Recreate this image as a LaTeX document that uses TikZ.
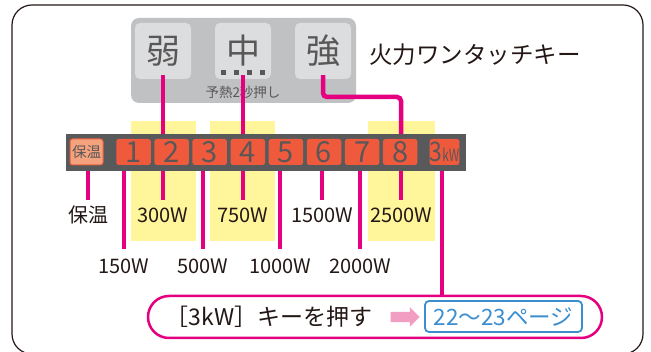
\documentclass[tikz,border=0pt]{standalone}
\usepackage{fontspec}
\setmainfont{Noto Sans CJK JP}
\usetikzlibrary{shapes.arrows}

\definecolor{hotpink}{HTML}{E4007F}
\definecolor{hilite}{HTML}{FFF59B}
\definecolor{bargray}{HTML}{58595B}
\definecolor{keyred}{HTML}{F05A3C}
\definecolor{keytext}{HTML}{595757}
\definecolor{warmkey}{HTML}{F5A27E}
\definecolor{warmedge}{HTML}{E9603A}
\definecolor{panelgray}{HTML}{C0C1C3}
\definecolor{btngray}{HTML}{DCDDDE}
\definecolor{ink}{HTML}{231815}
\definecolor{pagebl}{HTML}{3B8ED0}
\definecolor{arrowpk}{HTML}{F29EC2}

\newcommand{\fs}[1]{\fontsize{#1}{#1}\selectfont}

\tikzstyle{hot} = [line width=4.5pt, draw=hotpink]
\tikzstyle{btn} = [fill=btngray, rounded corners=5pt, minimum size=56pt, inner sep=0pt, text=keytext, font=\fs{34}]
\tikzstyle{numkey} = [fill=keyred, rounded corners=2.5pt, minimum width=34.5pt, minimum height=26pt, inner sep=0pt, text=keytext, font=\fs{29}]
\tikzstyle{watt} = [anchor=north, inner xsep=0pt, inner ysep=8pt, text height=14pt, text depth=0pt, text=ink, font=\fs{20}]
\tikzstyle{wattlow} = [watt, inner ysep=10pt]

\begin{document}
\begin{tikzpicture}[x=1pt, y=-1pt, node distance=38.1pt]
\useasboundingbox (0,0) rectangle (651,352);
\draw [line width=1.2pt, rounded corners=20pt, draw=ink] (12,5) rectangle (643,354);

% yellow columns
\fill [hilite] (131,121) rectangle (196,241);
\fill [hilite] (210,121) rectangle (275,241);
\fill [hilite] (368,121) rectangle (435,241);

% one-touch keys
\node (panel) [fill=panelgray, rounded corners=8pt, minimum width=225pt, minimum height=85pt] at (243.5,60.5) {};
\node (jyaku) [btn] at (163,51) {弱};
\node (chu) [btn, node distance=80pt, right of=jyaku] {中};
\node (kyou) [btn, node distance=80pt, right of=chu] {強};
\foreach \dx in {0,13,26,39}
  \fill [keytext] (220.5+\dx,70.5) rectangle ++(5,5);
\node (pre) [font=\fs{13.5}, text=keytext] at (243,92) {予熱2秒押し};
\node (title) [font=\fs{23.5}, text=ink] at (475,55) {火力ワンタッチキー};

% key bar
\node (bar) [fill=bargray, minimum width=400pt, minimum height=37pt, inner sep=0pt] at (266,152.5) {};
\node (k0) [numkey, fill=warmkey, draw=warmedge, line width=1pt, minimum width=33pt, font=\fs{14.5}] at (86.5,152) {保温};
\node (k1) [numkey] at (133.5,152) {1};
\node (k2) [numkey, right of=k1] {2};
\node (k3) [numkey, right of=k2] {3};
\node (k4) [numkey, right of=k3] {4};
\node (k5) [numkey, right of=k4] {5};
\node (k6) [numkey, right of=k5] {6};
\node (k7) [numkey, right of=k6] {7};
\node (k8) [numkey, right of=k7] {8};
\node (k9) [numkey, minimum width=29pt] at (444.5,152) {\scalebox{0.85}[1]{\fs{27}3}\scalebox{0.7}[1]{\fs{17}kW}};

% power labels
\node (l0) [watt] at (88,200) {保温};
\node (l2) [watt] at (163,200) {300W};
\node (l4) [watt] at (243,200) {750W};
\node (l6) [watt] at (322,200) {1500W};
\node (l8) [watt] at (401,200) {2500W};
\node (l1) [wattlow] at (124,249) {150W};
\node (l3) [wattlow] at (203,249) {500W};
\node (l5) [wattlow] at (280,249) {1000W};
\node (l7) [wattlow] at (360,249) {2000W};

% footer
\node (pill) [draw=hotpink, line width=2.5pt, fill=white, rounded corners=21pt, minimum width=454pt, minimum height=42pt] at (375,317) {};
\node (press) [font=\fs{23}, text=ink] at (269,317) {［3kW］キーを押す};
\node (arr) [single arrow, fill=arrowpk, minimum height=29pt, inner sep=0pt, inner ysep=5pt, single arrow head extend=4.5pt] at (402.5,317) {};
\node (page) [draw=pagebl, line width=1.8pt, rounded corners=4pt, minimum width=157pt, minimum height=31pt, inner sep=0pt, text=pagebl, font=\fs{22.5}] at (503.5,316.5) {22〜23ページ};

\coordinate (bend) at (401,97);
\coordinate (drop) at (442,0);

\draw [hot, shorten <=-4pt] (jyaku.south) -- (jyaku.south |- bar.north);
\draw [hot, shorten <=-4pt] (chu.south) -- (chu.south |- bar.north);
\draw [hot, shorten <=-4pt, rounded corners=4pt] (kyou.south) |- (bend) -- (bend |- bar.north);

\draw [hot] (bar.south -| l0) -- (l0);
\draw [hot] (bar.south -| l1) -- (l1);
\draw [hot] (bar.south -| l2) -- (l2);
\draw [hot] (bar.south -| l3) -- (l3);
\draw [hot] (bar.south -| l4) -- (l4);
\draw [hot] (bar.south -| l5) -- (l5);
\draw [hot] (bar.south -| l6) -- (l6);
\draw [hot] (bar.south -| l7) -- (l7);
\draw [hot] (bar.south -| l8) -- (l8);
\draw [hot] (bar.south -| drop) -- (pill.north -| drop);

\end{tikzpicture}
\end{document}
